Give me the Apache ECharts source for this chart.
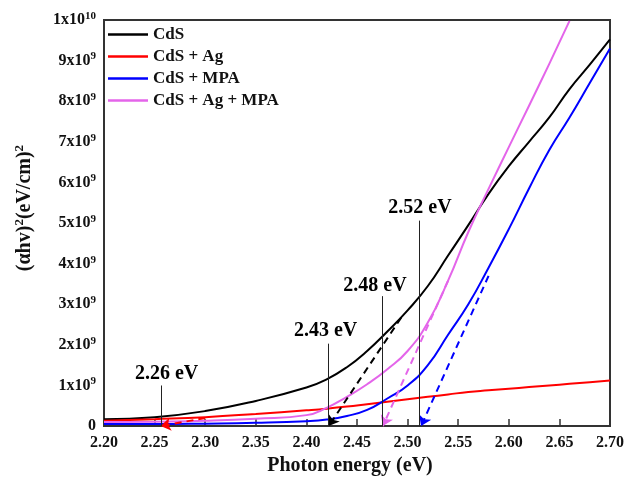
<!DOCTYPE html>
<html><head><meta charset="utf-8">
<script src="https://cdn.jsdelivr.net/npm/echarts@6/dist/echarts.min.js"></script>
<style>html,body{margin:0;padding:0;background:#fff}#c{width:627px;height:481px}</style>
</head><body><div id="c"></div>
<script>
// Photon energy (eV)
const energy = [2.20, 2.25, 2.30, 2.35, 2.40, 2.42, 2.44, 2.46, 2.48, 2.50, 2.52, 2.54, 2.56, 2.58, 2.60, 2.62, 2.64, 2.66, 2.68, 2.70];
// (αhv)^2 in units of 1e9 (eV/cm)^2
const cds      = [0.17, 0.22, 0.37, 0.62, 0.95, 1.15, 1.45, 1.85, 2.33, 2.85, 3.45, 4.20, 4.95, 5.72, 6.40, 7.00, 7.60, 8.30, 8.90, 9.52];
const cdsAg    = [0.13, 0.17, 0.22, 0.30, 0.39, 0.43, 0.48, 0.54, 0.60, 0.66, 0.72, 0.78, 0.84, 0.88, 0.92, 0.96, 1.00, 1.04, 1.08, 1.12];
const cdsMpa   = [0.05, 0.05, 0.06, 0.08, 0.12, 0.16, 0.25, 0.40, 0.68, 1.00, 1.50, 2.25, 3.00, 3.90, 4.85, 5.85, 6.80, 7.60, 8.45, 9.30];
const cdsAgMpa = [0.10, 0.11, 0.13, 0.18, 0.27, 0.45, 0.72, 1.03, 1.40, 1.85, 2.55, 3.58, 4.78, 5.84, 6.87, 7.89, 8.92, 9.98, null, null];

const seriesNames = ['CdS', 'CdS + Ag', 'CdS + MPA', 'CdS + Ag + MPA'];
const seriesColors = ['#000000', '#ff0000', '#0000ff', '#e465ea'];

// Tauc extrapolation lines: [start, end(arrow on x-axis)]
const tangentCdS      = [[2.4936, 2.67], [2.422, 0]];
const tangentCdSAg    = [[2.300, 0.20], [2.256, 0]];
const tangentCdSMpa   = [[2.580, 3.70], [2.5133, 0]];
const tangentCdSAgMpa = [[2.540, 3.58], [2.4755, 0]];

// Band gap markers
const gapEnergy = [2.257, 2.422, 2.4745, 2.512];
const gapLineTop = [1.0, 2.03, 3.2, 5.06];
const gapLabels = ['2.26 eV', '2.43 eV', '2.48 eV', '2.52 eV'];
const gapLabelAt = [[2.2618, 1.28], [2.4190, 2.34], [2.4677, 3.46], [2.5122, 5.37]];

const xTicks = [2.20, 2.25, 2.30, 2.35, 2.40, 2.45, 2.50, 2.55, 2.60, 2.65, 2.70];

const FONT = '"Liberation Serif", "Times New Roman", serif';

function pairs(vals) { return energy.map((e, i) => [e, vals[i]]); }
function tangentML(t, color) {
  return {
    silent: true, animation: false,
    symbol: ['none', 'arrow'], symbolSize: 10,
    label: { show: false },
    lineStyle: { color: color, type: [7, 5], width: 2 },
    emphasis: { disabled: true },
    data: [[{ coord: t[0] }, { coord: t[1] }]]
  };
}
const allVals = [cds, cdsAg, cdsMpa, cdsAgMpa];
const tangents = [tangentCdS, tangentCdSAg, tangentCdSMpa, tangentCdSAgMpa];

const series = seriesNames.map((n, i) => ({
  name: n, type: 'line', data: pairs(allVals[i]), smooth: 0.5, symbol: 'none', showSymbol: false,
  lineStyle: { color: seriesColors[i], width: 2 }, itemStyle: { color: seriesColors[i] },
  animation: false, z: i === 2 ? 4 : 3,
  markLine: tangentML(tangents[i], seriesColors[i])
}));

series.push({
  name: 'gaps', type: 'line', data: [], animation: false,
  markLine: {
    silent: true, animation: false, symbol: ['none', 'none'],
    label: { show: false },
    lineStyle: { color: '#222', type: 'solid', width: 1 },
    data: gapEnergy.map((e, i) => [{ coord: [e, 0] }, { coord: [e, gapLineTop[i]] }])
  }
});
series.push({
  name: 'gapLabels', type: 'scatter', animation: false, symbolSize: 1,
  itemStyle: { color: '#ffffff', opacity: 1 },
  data: gapLabels.map((l, i) => ({ name: l, value: gapLabelAt[i] })),
  label: { show: true, position: 'inside', formatter: '{b}', color: '#000', opacity: 1,
    textBorderWidth: 0, fontFamily: FONT, fontWeight: 'bold', fontSize: 20 },
  z: 6
});

const chart = echarts.init(document.getElementById('c'), null, { renderer: 'canvas' });
chart.setOption({
  backgroundColor: '#ffffff',
  animation: false,
  grid: { left: 104, right: 16, top: 20, bottom: 53, show: true, borderColor: '#333', borderWidth: 2, containLabel: false },
  legend: {
    data: seriesNames, orient: 'vertical', left: 108, top: 26, padding: 0,
    icon: 'rect', itemWidth: 40, itemHeight: 2.5, itemGap: 5, itemTextGap: 5,
    textStyle: { fontFamily: FONT, fontWeight: 'bold', fontSize: 17, color: '#111' }
  },
  xAxis: {
    type: 'value', min: 2.20, max: 2.70, interval: 0.05,
    name: 'Photon energy (eV)', nameLocation: 'middle', nameGap: 29,
    nameTextStyle: { fontFamily: FONT, fontWeight: 'bold', fontSize: 20, color: '#111', padding: [0, 14, 0, 0] },
    axisLine: { show: true, lineStyle: { color: '#333', width: 2 } },
    axisTick: { show: true, inside: true, length: 7, lineStyle: { color: '#333', width: 1.5 } },
    splitLine: { show: false },
    axisLabel: { margin: 9, fontFamily: FONT, fontWeight: 'bold', fontSize: 16, color: '#111',
      formatter: v => { const t = xTicks.find(x => Math.abs(x - v) < 1e-6); return (t !== undefined ? t : v).toFixed(2); } }
  },
  yAxis: {
    type: 'value', min: 0, max: 10, interval: 1,
    name: '(αhv){sup|2}(eV/cm){sup|2}', nameLocation: 'middle', nameGap: 68, nameRotate: 90,
    nameTextStyle: { fontFamily: FONT, fontWeight: 'bold', fontSize: 20, color: '#111', padding: [0, 0, 0, 30],
      rich: { sup: { fontFamily: FONT, fontWeight: 'bold', fontSize: 13, verticalAlign: 'top', padding: [0, 0, 10, 0], color: '#111' } } },
    axisLine: { show: true, lineStyle: { color: '#333', width: 2 } },
    axisTick: { show: false },
    splitLine: { show: false },
    axisLabel: {
      margin: 8, fontFamily: FONT, fontWeight: 'bold', fontSize: 16, color: '#111',
      formatter: v => v === 0 ? '0' : (v === 10 ? '1x10{sup|10}' : v + 'x10{sup|9}'),
      rich: { sup: { fontFamily: FONT, fontWeight: 'bold', fontSize: 11, verticalAlign: 'top', padding: [0, 0, 8, 0], color: '#111' } }
    }
  },
  series: series
});
</script>
</body></html>
